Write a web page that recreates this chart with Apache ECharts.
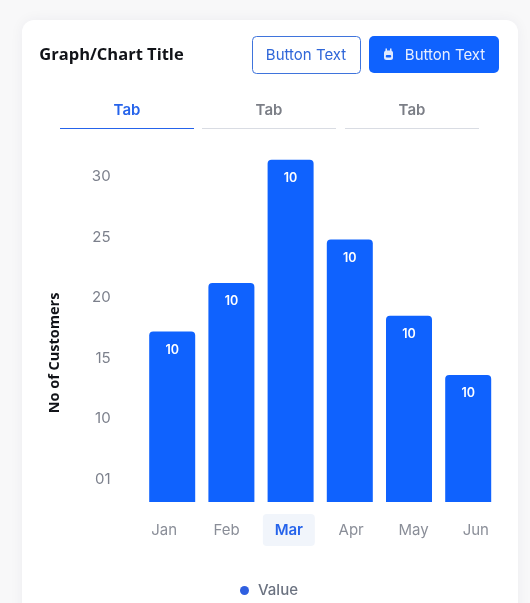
<!DOCTYPE html>
<html>
<head>
<meta charset="utf-8">
<style>
  html, body { margin: 0; padding: 0; background: #f8f8f9; }
  #chart { width: 530px; height: 603px; }
</style>
<script src="https://cdn.jsdelivr.net/npm/echarts@6/dist/echarts.min.js"></script>
</head>
<body>
<div id="chart"></div>
<script>
const months = ['Jan', 'Feb', 'Mar', 'Apr', 'May', 'Jun'];
const values = [17.2, 21.2, 31.4, 24.8, 18.5, 13.6];
const barLabels = ['10', '10', '10', '10', '10', '10'];
const yTicks = [5, 10, 15, 20, 25, 30];
const yTickLabels = ['01', '10', '15', '20', '25', '30'];
const activeMonth = 'Mar';
const tabs = ['Tab', 'Tab', 'Tab'];

const blue = '#0f62fe';
const font = 'Inter, sans-serif';
const titleFont = '"Open Sans", sans-serif';

const chart = echarts.init(document.getElementById('chart'));

function label(text, x, y, size, weight, fill, family) {
  return {
    type: 'text', x, y, silent: true,
    style: { text, fill, font: `${weight} ${size}px ${family || font}`, align: 'center', verticalAlign: 'middle' },
  };
}

function box(x, y, width, height, r, fill, stroke) {
  return {
    type: 'rect', shape: { x, y, width, height, r }, silent: true,
    style: { fill, stroke: stroke || null, lineWidth: stroke ? 1 : 0 },
  };
}

const tabX = [[60, 194], [202, 336], [345, 479]];
const tabGraphics = [];
tabs.forEach((t, i) => {
  const on = i === 0;
  tabGraphics.push(label(t, (tabX[i][0] + tabX[i][1]) / 2, 110, 15, 600, on ? '#2563eb' : '#7b7e86'));
  tabGraphics.push(box(tabX[i][0], 128, tabX[i][1] - tabX[i][0], 1, 0, on ? '#2563eb' : '#d9dce3'));
});

chart.setOption({
  backgroundColor: '#f8f8f9',
  animation: false,
  textStyle: { fontFamily: font },
  graphic: [
    {
      type: 'rect', z: -10, silent: true,
      shape: { x: 22, y: 20, width: 496, height: 620, r: 12 },
      style: { fill: '#ffffff', shadowBlur: 14, shadowColor: 'rgba(30,40,70,0.05)' },
    },
    label('Graph/Chart Title', 111.5, 55, 16.5, 700, '#111318', titleFont),
    box(252.5, 36.5, 108, 37, 4, '#ffffff', '#3f74dc'),
    label('Button Text', 306, 55, 15, 400, '#2f66d8'),
    box(369, 36, 130, 37, 5, blue),
    box(384, 50.5, 9, 9.5, 2.5, '#dfe9ff'),
    box(385.5, 48.5, 1.5, 3, 0, '#dfe9ff'),
    box(390, 48.5, 1.5, 3, 0, '#dfe9ff'),
    box(385.8, 55, 5.4, 2.6, 1, blue),
    label('Button Text', 445, 55, 15, 400, '#e8efff'),
    ...tabGraphics,
    {
      // axis title sits lower than the middle of the axis, so it is placed by hand
      type: 'text', x: 55, y: 353, rotation: Math.PI / 2, silent: true,
      style: {
        text: 'No of Customers', fill: '#111318',
        font: `700 14.5px ${titleFont}`, align: 'center', verticalAlign: 'middle',
      },
    },
  ],
  legend: {
    show: true,
    data: [{ name: 'Value', itemStyle: { color: '#2f5fe0' } }],
    icon: 'circle',
    itemWidth: 9,
    itemHeight: 9,
    left: 235,
    top: 578,
    textStyle: { color: '#6b7280', fontSize: 15, fontWeight: 500, fontFamily: font, padding: [0, 0, 0, 4] },
  },
  grid: [
    { left: 142.6, right: 32.2, top: 150, bottom: 101 },
    { left: 133, right: 23, top: 150, bottom: 101 },
  ],
  xAxis: [
    {
      type: 'category',
      gridIndex: 0,
      data: months,
      axisLine: { show: false },
      axisTick: { show: false },
      axisLabel: { show: false },
      splitLine: { show: false },
    },
    {
      // month labels sit on a slightly wider pitch than the bars
      type: 'category',
      gridIndex: 1,
      data: months,
      axisLine: { show: false },
      axisTick: { show: false },
      splitLine: { show: false },
      axisLabel: {
        margin: 12,
        interval: 0,
        formatter: (m) => (m === activeMonth ? `{on|${m}}` : `{off|${m}}`),
        rich: {
          off: { color: '#8a8e98', fontSize: 15, fontFamily: font, height: 32, lineHeight: 32 },
          on: {
            color: '#2563eb', fontSize: 15, fontWeight: 600, fontFamily: font,
            height: 32, lineHeight: 32, width: 52, align: 'center',
            backgroundColor: '#f1f5fb', borderRadius: 4,
          },
        },
      },
    },
  ],
  yAxis: [
    {
      type: 'value',
      gridIndex: 0,
      min: 3.1,
      max: 32.2,
      axisLine: { show: false },
      axisTick: { show: false },
      splitLine: { show: false },
      axisLabel: {
        customValues: yTicks,
        margin: 32,
        color: '#7c808c',
        fontSize: 15,
        fontFamily: font,
        formatter: (v) => yTickLabels[yTicks.indexOf(v)],
      },
    },
    {
      type: 'value',
      gridIndex: 1,
      show: false,
    },
  ],
  series: [
    {
      name: 'Value',
      type: 'bar',
      xAxisIndex: 0,
      yAxisIndex: 0,
      data: values,
      barWidth: 46,
      itemStyle: { color: blue, borderRadius: [4, 4, 0, 0] },
      label: {
        show: true,
        position: 'insideTop',
        distance: 12,
        color: '#ffffff',
        fontSize: 12.5,
        fontWeight: 600,
        fontFamily: font,
        formatter: (p) => barLabels[p.dataIndex],
      },
    },
  ],
});
</script>
</body>
</html>
